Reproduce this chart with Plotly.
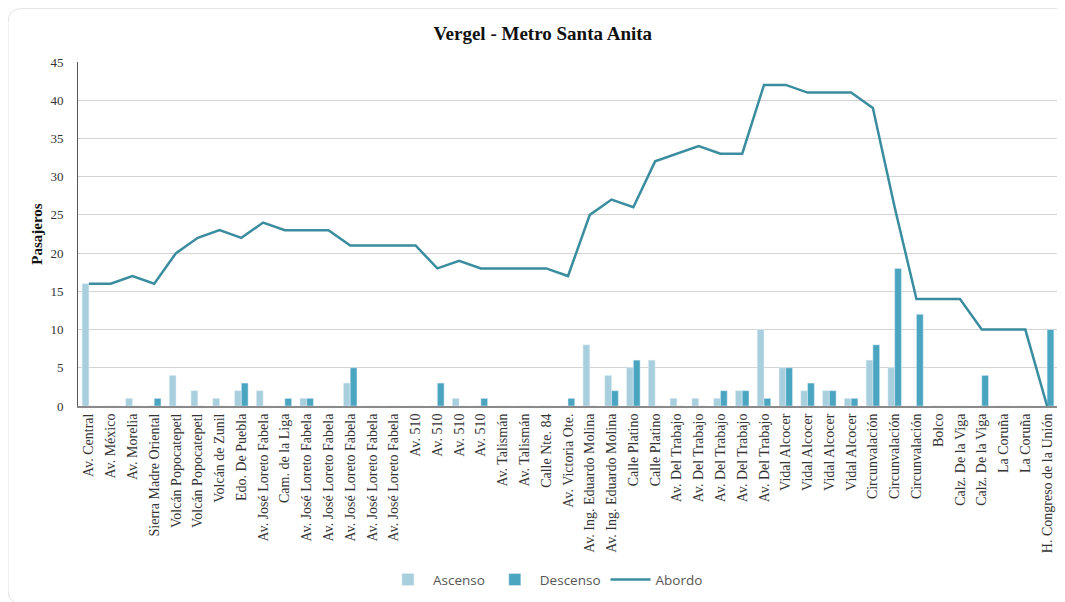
import plotly.graph_objects as go

paradas = [
    "Av. Central", "Av. México", "Av. Morelia", "Sierra Madre Oriental",
    "Volcán Popocatepetl", "Volcán Popocatepetl", "Volcán de Zunil", "Edo. De Puebla",
    "Av. José Loreto Fabela", "Cam. de la Liga", "Av. José Loreto Fabela",
    "Av. José Loreto Fabela", "Av. José Loreto Fabela", "Av. José Loreto Fabela",
    "Av. José Loreto Fabela", "Av. 510", "Av. 510", "Av. 510", "Av. 510",
    "Av. Talismán", "Av. Talismán", "Calle Nte. 84", "Av. Victoria Ote.",
    "Av. Ing. Eduardo Molina", "Av. Ing. Eduardo Molina", "Calle Platino", "Calle Platino",
    "Av. Del Trabajo", "Av. Del Trabajo", "Av. Del Trabajo", "Av. Del Trabajo",
    "Av. Del Trabajo", "Vidal Alcocer", "Vidal Alcocer", "Vidal Alcocer", "Vidal Alcocer",
    "Circunvalación", "Circunvalación", "Circunvalación", "Bolco",
    "Calz. De la Viga", "Calz. De la Viga", "La Coruña", "La Coruña",
    "H. Congreso de la Unión",
]

ascenso = [16, 0, 1, 0, 4, 2, 1, 2, 2, 0, 1, 0, 3, 0, 0, 0, 0, 1, 0, 0, 0, 0, 0,
           8, 4, 5, 6, 1, 1, 1, 2, 10, 5, 2, 2, 1, 6, 5, 0, 0, 0, 0, 0, 0, 0]
descenso = [0, 0, 0, 1, 0, 0, 0, 3, 0, 1, 1, 0, 5, 0, 0, 0, 3, 0, 1, 0, 0, 0, 1,
            0, 2, 6, 0, 0, 0, 2, 2, 1, 5, 3, 2, 1, 8, 18, 12, 0, 0, 4, 0, 0, 10]
abordo = [16, 16, 17, 16, 20, 22, 23, 22, 24, 23, 23, 23, 21, 21, 21, 21, 18, 19, 18,
          18, 18, 18, 17, 25, 27, 26, 32, 33, 34, 33, 33, 42, 42, 41, 41, 41, 39, 26,
          14, 14, 14, 10, 10, 10, 0]

x = list(range(len(paradas)))

fig = go.Figure()
fig.add_trace(go.Bar(x=x, y=ascenso, name="Ascenso", marker_color="#a7cfdd"))
fig.add_trace(go.Bar(x=x, y=descenso, name="Descenso", marker_color="#4aa5c0"))
fig.add_trace(go.Scatter(x=x, y=abordo, name="Abordo", mode="lines",
                         line=dict(color="#3a8c9f", width=2.5)))

# tarjeta con esquinas redondeadas (el body de la página ya añade 8px de margen)
L, R, T, B = -70 / 980, 1.03, 402 / 348, -200 / 348
rx, ry = 14 / 980, 14 / 348
card = (f"M {L + rx} {T} L {R} {T} L {R} {B} L {L + rx} {B} "
        f"Q {L} {B} {L} {B + ry} L {L} {T - ry} Q {L} {T} {L + rx} {T} Z")

fig.update_layout(
    width=1057, height=594,
    margin=dict(l=70, r=7, t=54, b=192),
    paper_bgcolor="white", plot_bgcolor="white",
    title=dict(text="<b>Vergel - Metro Santa Anita</b>", x=0.506, xanchor="center",
               y=0.958, yanchor="middle",
               font=dict(family="Liberation Serif", size=19, color="#111")),
    barmode="group", bargap=0.38, bargroupgap=0,
    showlegend=True,
    legend=dict(orientation="h", x=0.477, xanchor="center", y=-0.505, yanchor="middle",
                font=dict(family="Open Sans", size=13.5, color="#555"),
                itemwidth=40, traceorder="normal"),
    shapes=[dict(type="path", path=card, xref="paper", yref="paper",
                 line=dict(color="#e2e2e2", width=1), layer="below")],
)

fig.update_xaxes(
    tickmode="array", tickvals=x, ticktext=paradas, tickangle=-90,
    range=[-0.5, len(paradas) - 0.5], automargin=False,
    tickfont=dict(family="Liberation Serif", size=14, color="#333"),
    showline=True, linecolor="#8a8a8a", linewidth=2, showgrid=False,
    ticks="", zeroline=False,
)
fig.update_yaxes(
    range=[0, 45], dtick=5, automargin=False,
    title=dict(text="<b>Pasajeros</b>", standoff=4,
               font=dict(family="Liberation Serif", size=15, color="#111")),
    tickfont=dict(family="Liberation Serif", size=13, color="#333"),
    showline=True, linecolor="#555", linewidth=1,
    showgrid=True, gridcolor="#d4d4d4", gridwidth=1, zeroline=False,
    ticks="", ticklabelstandoff=11,
)

fig.write_html("out.html")
